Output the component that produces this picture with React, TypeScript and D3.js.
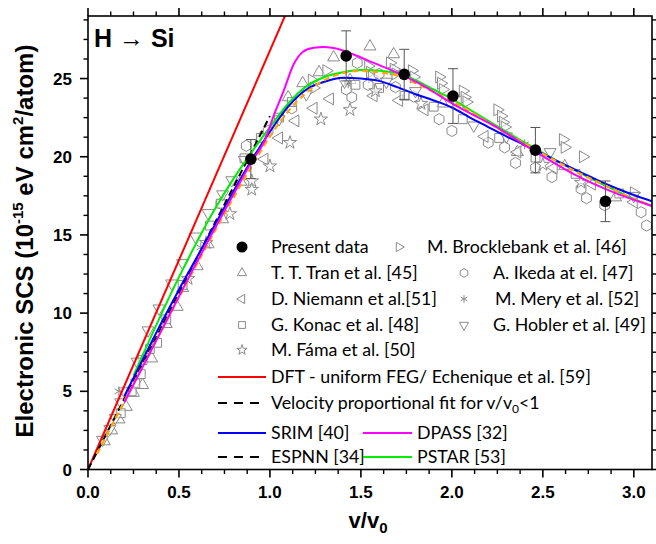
import * as d3 from "d3";

const W = 656;
const H = 544;
const plot = { left: 88, right: 652, top: 16, bottom: 469.5 };

const vDomain = [0, 3.1];
const scsDomain = [0, 29];
const xTicks = [0, 0.5, 1.0, 1.5, 2.0, 2.5, 3.0];
const yTicks = [0, 5, 10, 15, 20, 25];

// present data (v/v0, SCS, error)
const presentV = [0.895, 1.419, 1.738, 2.006, 2.459, 2.844];
const presentS = [19.85, 26.45, 25.27, 23.88, 20.42, 17.15];
const presentErr = [1.25, 1.6, 1.6, 1.75, 1.45, 1.3];

// literature data
const tran = [[0.09, 1.8], [0.13, 2.5], [0.17, 3.2], [0.21, 4.0], [0.25, 4.9], [0.3, 5.4], [0.35, 7.1], [0.43, 9.3], [0.49, 10.4], [0.52, 11.6], [0.6, 13.0], [0.66, 14.4], [0.74, 16.0], [0.84, 18.4], [0.95, 21.2], [1.1, 23.8], [1.18, 24.7], [1.27, 25.4], [1.35, 26.35], [1.44, 24.9], [1.55, 27.05], [1.68, 26.55], [1.95, 23.4], [2.36, 20.3], [2.62, 19.4], [2.9, 17.4]];
const brocklebank = [[1.23, 24.9], [1.24, 24.4], [1.31, 25.5], [1.54, 25.8], [1.55, 25.4], [1.56, 25.1], [1.66, 26.0], [1.68, 25.6], [1.69, 25.3], [1.78, 25.5], [1.79, 25.1], [1.93, 25.1], [1.94, 24.7], [1.95, 24.3], [2.06, 24.2], [2.07, 23.8], [2.08, 23.5], [2.25, 23.0], [2.27, 22.6], [2.28, 22.2], [2.29, 21.9], [2.61, 21.1], [2.62, 20.6], [2.72, 20.0], [3.0, 17.7]];
const ikeda = [[0.73, 17.0], [0.87, 20.7], [0.99, 21.65], [1.12, 23.1], [1.42, 24.3], [1.45, 23.8], [1.48, 26.0], [1.54, 24.6], [1.6, 25.3], [1.69, 24.45], [1.79, 23.85], [1.93, 22.4], [2.0, 21.65], [2.2, 20.9], [2.29, 20.6], [2.35, 19.6], [2.46, 19.3], [2.55, 18.7], [2.71, 17.95], [2.74, 17.35], [2.84, 16.9], [3.04, 16.45], [3.07, 15.6]];
const niemann = [[0.97, 19.85], [1.05, 21.2], [1.14, 22.3], [1.24, 23.1], [1.33, 23.7], [1.57, 23.9], [1.71, 23.6], [1.85, 23.0], [2.18, 21.3], [2.36, 20.3], [2.56, 19.3], [2.77, 18.25], [3.0, 17.1]];
const mery = [[0.17, 5.0], [0.62, 14.2], [1.43, 24.7], [2.4, 20.8]];
const konac = [[0.18, 3.6], [0.24, 5.0], [0.26, 5.5], [0.29, 6.1], [0.3, 7.0], [0.34, 7.7], [0.38, 8.1], [0.43, 9.6], [0.52, 11.8], [0.67, 15.6], [0.73, 17.0], [0.86, 19.9], [0.95, 21.2], [1.05, 22.5], [1.12, 23.5], [1.47, 24.6], [1.6, 24.4], [1.74, 23.9], [1.9, 23.2], [2.06, 22.4], [2.26, 21.2], [2.46, 19.95], [2.68, 18.9], [2.92, 17.65]];
const hobler = [[0.08, 1.9], [0.12, 2.6], [0.15, 3.3], [0.18, 4.3], [0.2, 5.0], [0.27, 6.9], [0.33, 8.9], [0.39, 10.3], [0.46, 11.9], [0.52, 13.2], [0.59, 14.9], [0.66, 16.4], [0.74, 17.6], [0.79, 18.5], [0.86, 19.8], [1.05, 22.4], [1.2, 24.0], [1.41, 24.8], [1.64, 24.8], [1.8, 24.2], [2.12, 22.0], [2.3, 21.3], [2.54, 20.3], [3.0, 17.5]];
const fama = [[0.55, 12.2], [0.65, 14.5], [0.78, 16.35], [0.9, 18.45], [0.9, 17.9], [1.0, 19.4], [1.11, 20.9], [1.28, 22.4], [1.44, 23.0], [1.58, 24.2], [1.83, 23.4], [2.5, 19.5], [2.71, 18.35]];

// curves
const dft = [[0, 0], [1.12, 30]];
const velocityFit = [[0, 0], [1.0, 22.6]];
const srim = [[0.2, 4.7], [0.3, 7.0], [0.4, 9.3], [0.5, 11.5], [0.6, 13.6], [0.7, 15.7], [0.8, 17.8], [0.9, 19.8], [1.0, 21.6], [1.1, 23.2], [1.2, 24.3], [1.3, 24.8], [1.4, 25.05], [1.5, 25.0], [1.6, 24.85], [1.7, 24.45], [1.8, 24.0], [1.9, 23.6], [2.0, 23.15], [2.1, 22.5], [2.2, 21.9], [2.3, 21.3], [2.4, 20.75], [2.5, 20.2], [2.6, 19.6], [2.7, 19.05], [2.8, 18.5], [2.9, 18.0], [3.0, 17.55], [3.1, 17.15]];
const dpass = [[0.2, 4.3], [0.4, 8.8], [0.6, 13.3], [0.8, 17.6], [0.9, 19.7], [0.97, 21.0], [1.02, 22.6], [1.075, 24.2], [1.13, 25.9], [1.18, 26.7], [1.24, 26.97], [1.3, 27.02], [1.37, 26.9], [1.46, 26.54], [1.57, 26.0], [1.68, 25.48], [1.83, 24.63], [2.01, 23.35], [2.25, 21.86], [2.45, 20.38], [2.67, 18.89], [2.89, 17.72], [3.1, 16.85]];
const espnn = [[0.05, 1.0], [0.3, 6.6], [0.5, 11.0], [0.7, 15.3], [0.9, 19.4], [1.0, 21.3], [1.1, 22.9], [1.2, 24.1], [1.3, 24.9], [1.4, 25.35], [1.5, 25.5], [1.6, 25.4], [1.7, 25.2], [1.8, 24.7], [1.9, 24.15], [2.0, 23.55], [2.1, 22.9], [2.2, 22.2], [2.3, 21.5], [2.4, 20.85], [2.5, 20.2], [2.6, 19.55], [2.7, 18.95], [2.8, 18.4], [2.9, 17.85], [3.0, 17.3], [3.1, 16.9]];
const pstar = [[0.25, 6.0], [0.5, 12.3], [0.7, 16.7], [0.8, 18.6], [0.9, 20.3], [1.0, 21.9], [1.1, 23.4], [1.2, 24.5], [1.3, 25.1], [1.4, 25.4], [1.5, 25.55], [1.6, 25.5], [1.7, 25.35], [1.8, 24.9], [1.9, 24.3], [2.0, 23.7], [2.1, 23.0], [2.2, 22.3], [2.3, 21.6], [2.4, 20.9], [2.5, 20.25], [2.6, 19.6], [2.7, 19.0], [2.8, 18.4], [2.9, 17.85], [3.0, 17.3], [3.1, 16.85]];

const GRAY = "#8a8a8a";
const LABEL_FONT = "'Liberation Sans', Arial, sans-serif";
const LEGEND_FONT = "Lato, 'Open Sans', sans-serif";

const hexPath = (r: number) => {
  const pts = d3.range(6).map((i) => {
    const a = (Math.PI / 3) * i - Math.PI / 2;
    return [r * Math.cos(a), r * Math.sin(a)];
  });
  return "M" + pts.map((p) => p.join(",")).join("L") + "Z";
};

type Marker = "up" | "down" | "left" | "right" | "hex" | "square" | "star" | "asterisk";

function markerPath(kind: Marker, scale: number) {
  switch (kind) {
    case "up":
    case "down":
    case "left":
    case "right":
      return d3.symbol().type(d3.symbolTriangle).size(62 * scale)()!;
    case "hex":
      return hexPath(5.6 * Math.sqrt(scale));
    case "square":
      return d3.symbol().type(d3.symbolSquare).size(78 * scale)()!;
    case "star":
      return d3.symbol().type(d3.symbolStar).size(55 * scale)()!;
    case "asterisk":
      return d3.symbol().type(d3.symbolAsterisk).size(70 * scale)()!;
  }
}

const rotation: Record<Marker, number> = { up: 0, down: 180, left: -90, right: 90, hex: 0, square: 0, star: 0, asterisk: 0 };

function Sym({ kind, cx, cy, scale = 1 }: { kind: Marker; cx: number; cy: number; scale?: number }) {
  return (
    <path
      d={markerPath(kind, scale)}
      transform={`translate(${cx},${cy}) rotate(${rotation[kind]})`}
      fill={kind === "asterisk" ? "none" : "#fff"}
      fillOpacity={0.55}
      stroke={GRAY}
      strokeWidth={1}
    />
  );
}

const scatterSeries: { data: number[][]; kind: Marker }[] = [
  { data: tran, kind: "up" },
  { data: brocklebank, kind: "right" },
  { data: ikeda, kind: "hex" },
  { data: niemann, kind: "left" },
  { data: mery, kind: "asterisk" },
  { data: konac, kind: "square" },
  { data: hobler, kind: "down" },
  { data: fama, kind: "star" },
];

const markerLegend: { kind: Marker | "dot"; label: string; sx: number; tx: number; cy: number }[] = [
  { kind: "dot", label: "Present data", sx: 242, tx: 271, cy: 247 },
  { kind: "right", label: "M. Brocklebank et al. [46]", sx: 399, tx: 427, cy: 247 },
  { kind: "up", label: "T. T. Tran et al. [45]", sx: 242, tx: 271, cy: 273 },
  { kind: "hex", label: "A. Ikeda at el. [47]", sx: 464, tx: 493, cy: 273 },
  { kind: "left", label: "D. Niemann et al.[51]", sx: 242, tx: 271, cy: 299 },
  { kind: "asterisk", label: "M. Mery et al. [52]", sx: 464, tx: 495, cy: 299 },
  { kind: "square", label: "G. Konac et al. [48]", sx: 242, tx: 271, cy: 325 },
  { kind: "down", label: "G. Hobler et al. [49]", sx: 464, tx: 493, cy: 325 },
  { kind: "star", label: "M. Fáma et al. [50]", sx: 242, tx: 271, cy: 350 },
];

const lineLegend = [
  { color: "#ff0000", dash: "", label: "DFT - uniform FEG/ Echenique et al. [59]", x0: 218, x1: 266, tx: 271, cy: 377 },
  { color: "#000", dash: "9 7", label: "Velocity proportional fit for v/v", sub: "0", tail: "<1", x0: 218, x1: 266, tx: 271, cy: 403 },
  { color: "#0000ff", dash: "", label: "SRIM [40]", x0: 218, x1: 266, tx: 271, cy: 433 },
  { color: "#ff00ff", dash: "", label: "DPASS [32]", x0: 363, x1: 412, tx: 417, cy: 433 },
  { color: "#000", dash: "9 7", label: "ESPNN [34]", x0: 218, x1: 266, tx: 271, cy: 457 },
  { color: "#00ee00", dash: "", label: "PSTAR [53]", x0: 363, x1: 412, tx: 417, cy: 457 },
];

export default function App() {
  const x = d3.scaleLinear().domain(vDomain).range([plot.left, plot.right]);
  const y = d3.scaleLinear().domain(scsDomain).range([plot.bottom, plot.top]);
  const line = d3
    .line<number[]>()
    .x((d) => x(d[0]))
    .y((d) => y(d[1]))
    .curve(d3.curveMonotoneX);
  const straight = d3
    .line<number[]>()
    .x((d) => x(d[0]))
    .y((d) => y(d[1]));

  const xMinor = d3.range(0, 3.1, 0.125).filter((v) => Math.abs(v / 0.5 - Math.round(v / 0.5)) > 1e-6);
  const yMinor = d3.range(0, 29, 1.25).filter((v) => Math.abs(v / 5 - Math.round(v / 5)) > 1e-6);

  return (
    <svg width={W} height={H} style={{ position: "absolute", left: 0, top: 0, background: "#fff" }}>
      <defs>
        <clipPath id="plot-clip">
          <rect x={plot.left} y={plot.top} width={plot.right - plot.left} height={plot.bottom - plot.top} />
        </clipPath>
      </defs>

      <g clipPath="url(#plot-clip)">
        {scatterSeries.map((s, i) => (
          <g key={i}>
            {s.data.map((d, j) => (
              <Sym key={j} kind={s.kind} cx={x(d[0])} cy={y(d[1])} />
            ))}
          </g>
        ))}
        <path d={straight(dft)!} fill="none" stroke="#ff0000" strokeWidth={2} />
        <path d={straight(velocityFit)!} fill="none" stroke="#000" strokeWidth={2} strokeDasharray="7 4" />
        <path d={line(pstar)!} fill="none" stroke="#00ee00" strokeWidth={2} />
        <path d={line(srim)!} fill="none" stroke="#0000ff" strokeWidth={2} />
        <path d={line(espnn)!} fill="none" stroke="#ffa500" strokeWidth={2.2} strokeDasharray="6 4" />
        <path d={line(dpass)!} fill="none" stroke="#ff00ff" strokeWidth={2} />
        {presentV.map((v, i) => {
          const cx = x(v);
          const hi = y(presentS[i] + presentErr[i]);
          const lo = y(presentS[i] - presentErr[i]);
          return (
            <g key={i}>
              <line x1={cx} x2={cx} y1={hi} y2={lo} stroke="#555" strokeWidth={1} />
              <line x1={cx - 5} x2={cx + 5} y1={hi} y2={hi} stroke="#555" strokeWidth={1} />
              <line x1={cx - 5} x2={cx + 5} y1={lo} y2={lo} stroke="#555" strokeWidth={1} />
              <circle cx={cx} cy={y(presentS[i])} r={5.8} fill="#000" />
            </g>
          );
        })}
      </g>

      {/* frame */}
      <rect x={plot.left} y={plot.top} width={plot.right - plot.left} height={plot.bottom - plot.top} fill="none" stroke="#000" strokeWidth={1.6} />

      {/* x ticks bottom and top */}
      {xTicks.map((t) => (
        <g key={`xt${t}`}>
          <line x1={x(t)} x2={x(t)} y1={plot.bottom} y2={plot.bottom + 8} stroke="#000" strokeWidth={1.6} />
          <line x1={x(t)} x2={x(t)} y1={plot.top} y2={plot.top - 8} stroke="#000" strokeWidth={1.6} />
          <text x={x(t)} y={498} textAnchor="middle" fontFamily={LABEL_FONT} fontWeight="bold" fontSize={17}>
            {t.toFixed(1)}
          </text>
        </g>
      ))}
      {xMinor.map((t) => (
        <g key={`xm${t}`}>
          <line x1={x(t)} x2={x(t)} y1={plot.bottom} y2={plot.bottom + 4.5} stroke="#000" strokeWidth={1.4} />
          <line x1={x(t)} x2={x(t)} y1={plot.top} y2={plot.top - 4.5} stroke="#000" strokeWidth={1.4} />
        </g>
      ))}

      {/* y ticks left and right */}
      {yTicks.map((t) => (
        <g key={`yt${t}`}>
          <line x1={plot.left} x2={plot.left - 8} y1={y(t)} y2={y(t)} stroke="#000" strokeWidth={1.6} />
          <line x1={plot.right} x2={plot.right + 8} y1={y(t)} y2={y(t)} stroke="#000" strokeWidth={1.6} />
          <text x={72} y={y(t) + 6} textAnchor="end" fontFamily={LABEL_FONT} fontWeight="bold" fontSize={17}>
            {t}
          </text>
        </g>
      ))}
      {yMinor.map((t) => (
        <g key={`ym${t}`}>
          <line x1={plot.left} x2={plot.left - 4.5} y1={y(t)} y2={y(t)} stroke="#000" strokeWidth={1.4} />
          <line x1={plot.right} x2={plot.right + 4.5} y1={y(t)} y2={y(t)} stroke="#000" strokeWidth={1.4} />
        </g>
      ))}

      {/* axis titles */}
      <text x={368} y={528} textAnchor="middle" fontFamily={LABEL_FONT} fontWeight="bold" fontSize={22}>
        v/v<tspan dy={5} fontSize={15}>0</tspan>
      </text>
      <text transform="translate(33,241) rotate(-90)" textAnchor="middle" fontFamily={LABEL_FONT} fontWeight="bold" fontSize={24}>
        Electronic SCS (10<tspan dy={-10} fontSize={15}>-15</tspan>
        <tspan dy={10}> eV cm</tspan>
        <tspan dy={-10} fontSize={15}>2</tspan>
        <tspan dy={10}>/atom)</tspan>
      </text>

      <text x={94} y={47} fontFamily={LABEL_FONT} fontWeight="bold" fontSize={25}>
        H <tspan fontWeight="normal">→</tspan> Si
      </text>

      {/* legend */}
      {markerLegend.map((m, i) => (
        <g key={`ml${i}`}>
          {m.kind === "dot" ? (
            <circle cx={m.sx} cy={m.cy} r={5.5} fill="#000" />
          ) : (
            <Sym kind={m.kind} cx={m.sx} cy={m.cy} scale={0.6} />
          )}
          <text x={m.tx} y={m.cy + 6} fontFamily={LEGEND_FONT} fontSize={17.8}>
            {m.label}
          </text>
        </g>
      ))}
      {lineLegend.map((l, i) => (
        <g key={`ll${i}`}>
          <line x1={l.x0} x2={l.x1} y1={l.cy} y2={l.cy} stroke={l.color} strokeWidth={2} strokeDasharray={l.dash || undefined} />
          <text x={l.tx} y={l.cy + 6} fontFamily={LEGEND_FONT} fontSize={17.8}>
            {l.label}
            {l.sub && (
              <>
                <tspan dy={4} fontSize={12}>{l.sub}</tspan>
                <tspan dy={-4}>{l.tail}</tspan>
              </>
            )}
          </text>
        </g>
      ))}
    </svg>
  );
}
